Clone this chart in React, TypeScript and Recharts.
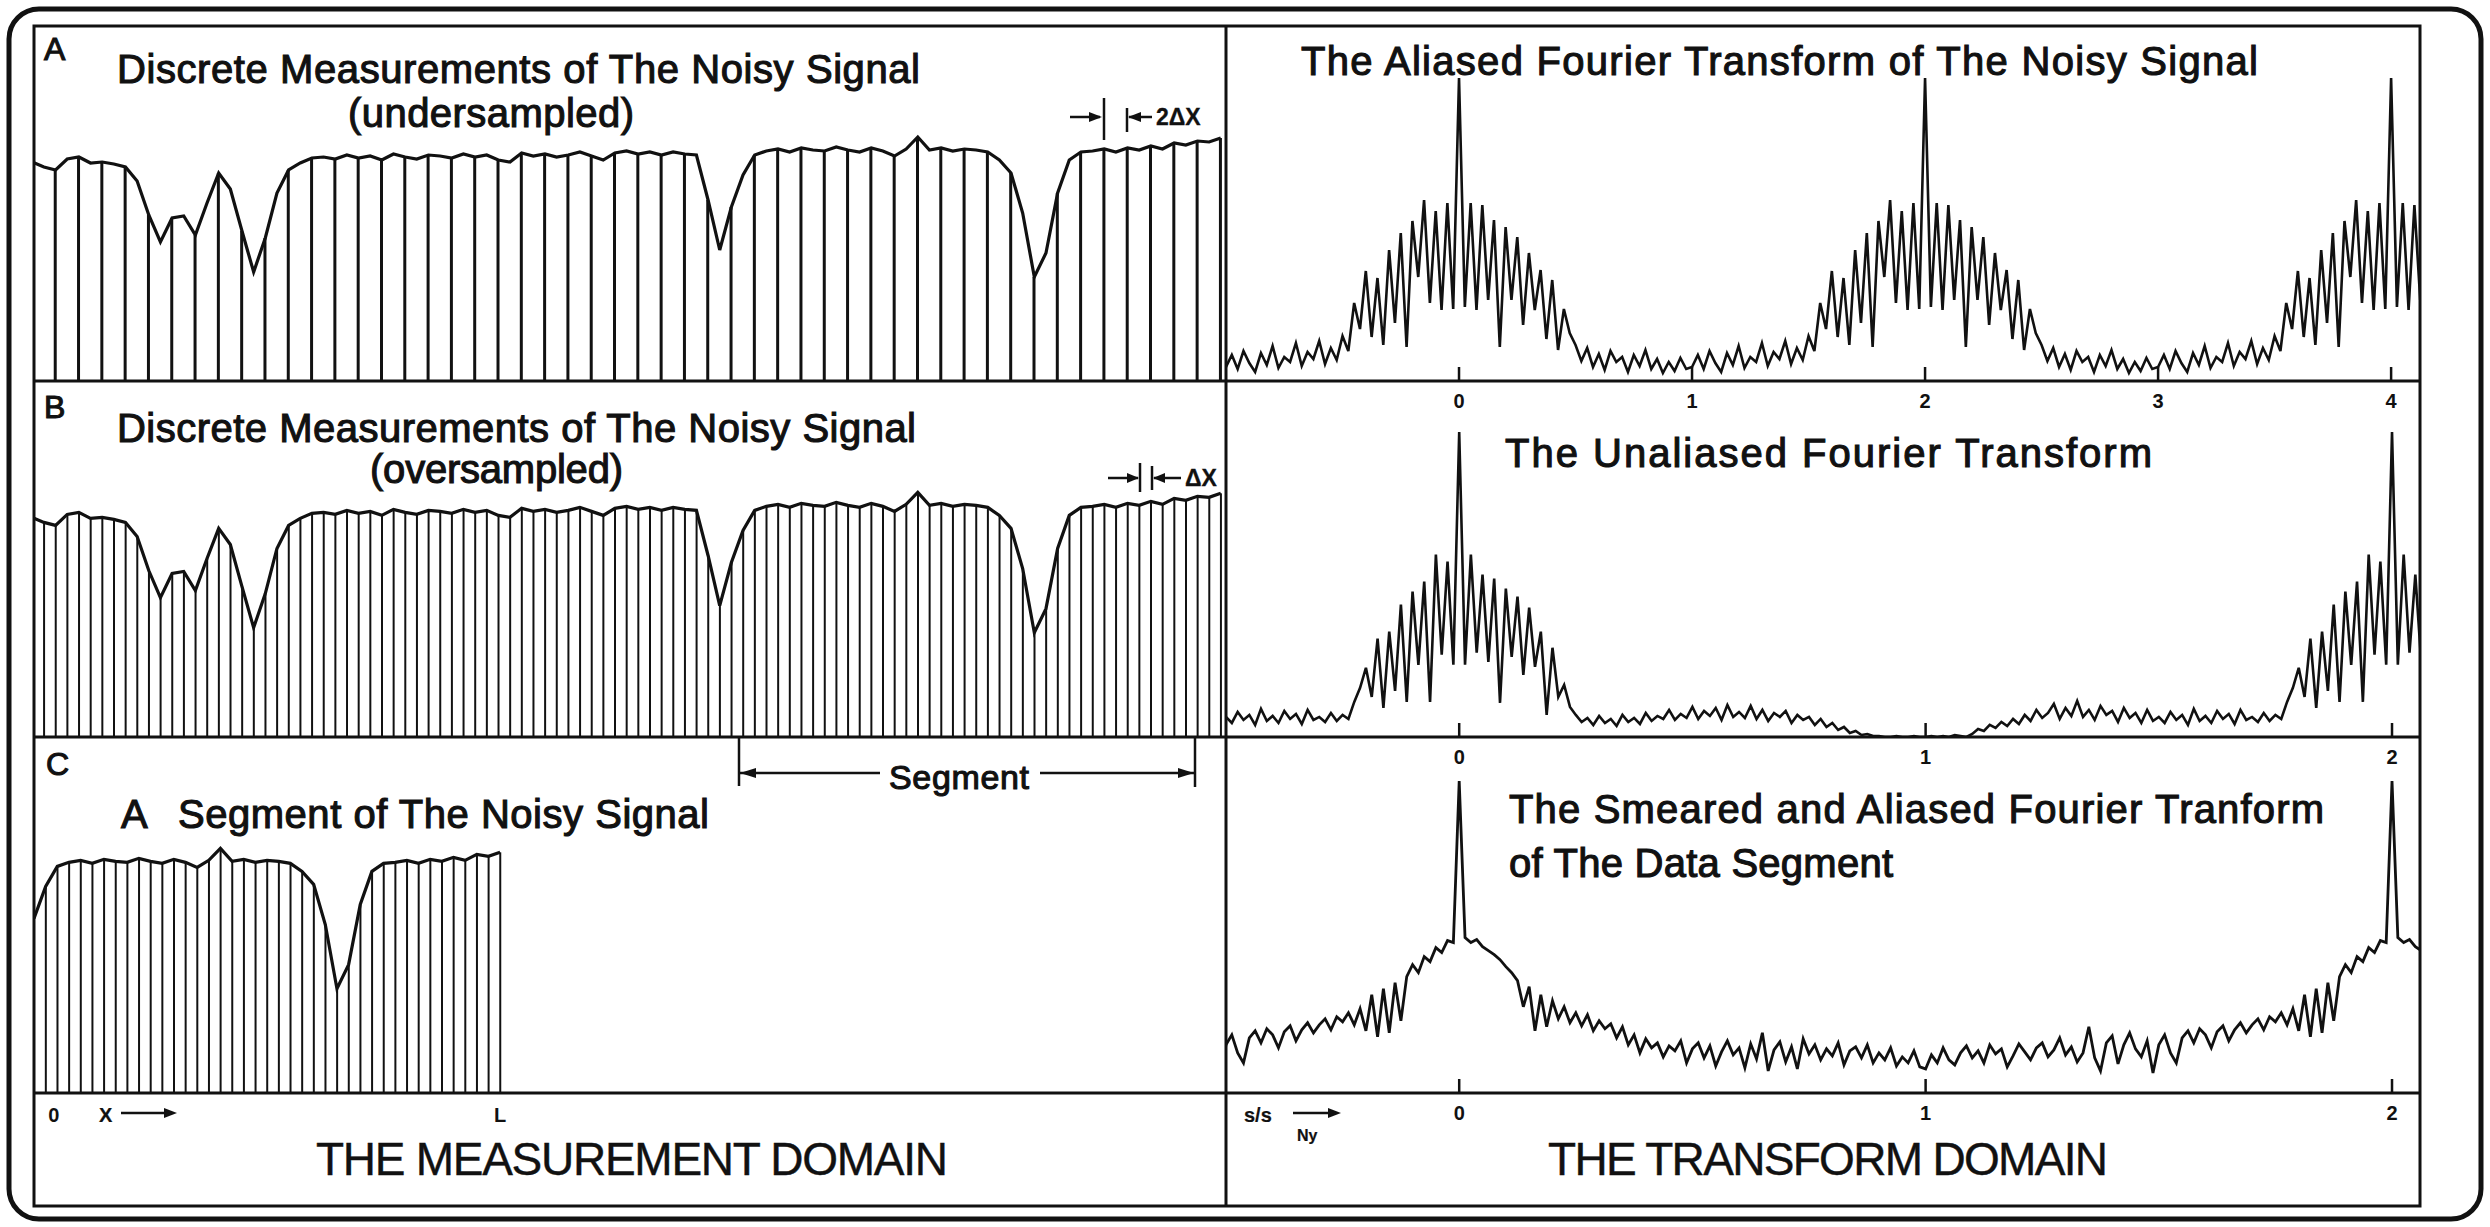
import { ComposedChart, LineChart, Line, Bar, XAxis, YAxis } from 'recharts';

// noisy signal: height above the baseline at every Δx sample (oversampled panel uses all of them)
const SIGNAL = [
  219, 214, 211, 222, 224, 218, 219, 217, 214, 200,
  166, 139, 163, 165, 146, 178, 208, 192, 150, 109,
  143, 188, 211, 218, 223, 224, 222, 226, 223, 225,
  221, 227, 224, 222, 226, 225, 223, 227, 224, 226,
  221, 219, 228, 225, 227, 224, 226, 229, 225, 221,
  228, 230, 227, 229, 226, 229, 227, 226, 181, 131,
  174, 206, 226, 230, 232, 229, 233, 231, 230, 234,
  231, 229, 233, 230, 225, 232, 244, 231, 233, 230,
  232, 231, 229, 221, 208, 168, 104, 128, 188, 221,
  229, 230, 232, 229, 233, 231, 235, 232, 238, 236,
  240, 239, 243,
];
const SEG_FIRST = 61;
const SEG_LAST = 100;

// one period (2 units) of each transform
const ALIASED = [
  14, 26, 12, 30, 18, 9, 28, 16, 35, 13,
  24, 19, 38, 15, 29, 22, 40, 17, 33, 21,
  45, 30, 78, 52, 110, 44, 103, 36, 131, 58,
  148, 34, 160, 104, 181, 78, 170, 71, 178, 72,
  303, 74, 178, 71, 176, 81, 161, 34, 154, 81,
  144, 56, 128, 71, 111, 42, 101, 31, 72, 48,
  36, 20, 33, 14, 27, 11, 30, 19, 24, 9,
  26, 15, 31, 12, 22, 8, 19, 10, 23, 12,
];
const UNALIASED = [
  0, 1, 0, 1, 0, 2, 1, 0, 3, 8,
  6, 12, 9, 15, 11, 18, 13, 22, 16, 27,
  19, 24, 33, 18, 29, 21, 36, 20, 27, 17,
  31, 22, 26, 15, 29, 19, 24, 14, 27, 16,
  20, 14, 25, 17, 22, 12, 28, 16, 21, 14,
  26, 18, 23, 13, 27, 17, 20, 15, 24, 16,
  22, 18, 35, 49, 69, 40, 98, 29, 105, 46,
  132, 35, 145, 72, 155, 35, 182, 82, 175, 72,
  304, 72, 182, 84, 162, 75, 158, 34, 148, 80,
  140, 62, 129, 70, 105, 22, 89, 40, 52, 30,
  22, 15, 19, 12, 21, 14, 18, 11, 22, 15,
  19, 13, 24, 16, 21, 18, 27, 17, 23, 19,
  30, 18, 26, 21, 29, 17, 32, 20, 25, 19,
  31, 18, 27, 16, 24, 20, 26, 14, 22, 17,
  20, 12, 18, 10, 14, 7, 10, 4, 6, 2,
  3, 1, 1, 0, 0, 1, 0, 0, 1, 0,
];
const SMEARED = [
  24, 38, 30, 45, 33, 28, 40, 47, 35, 42,
  30, 48, 39, 44, 26, 37, 49, 41, 33, 45,
  50, 36, 43, 55, 38, 46, 31, 40, 66, 35,
  22, 50, 57, 29, 48, 60, 44, 36, 52, 20,
  48, 58, 40, 30, 55, 62, 50, 64, 58, 45,
  61, 67, 52, 63, 70, 60, 68, 74, 63, 76,
  71, 80, 68, 84, 62, 98, 56, 104, 60, 110,
  72, 116, 128, 120, 136, 131, 145, 140, 152, 150,
  311, 155, 150, 153, 146, 142, 138, 133, 126, 120,
  112, 86, 106, 62, 98, 66, 92, 74, 86, 70,
  80, 67, 78, 62, 72, 64, 69, 55, 66, 48,
  58, 40, 54, 45, 50, 36, 47, 42, 52, 30,
  44, 50, 35, 47, 27, 41, 52, 38, 45, 25,
  49, 34, 60, 22, 43, 51, 31, 46, 24, 54,
  39, 48, 33, 44, 37, 50, 28, 42, 46, 35,
  48, 30, 40, 33, 45, 27, 36, 30, 42, 26,
];

const TICKS_ALIASED = [0, 1, 2, 3, 4];
const TICKS_NY = [0, 1, 2];
const SEG_TICKS = [61.7, 100];
const SEG_TICK_LABELS = ['0', 'L'];

const FONT = '"Liberation Sans", Arial, Helvetica, sans-serif';
const INK = '#111';
const AXIS_H = 44;

type Pt = { x: number; v: number };

// the transforms are periodic (period 2), so a read period is repeated across the axis
function tilePeriod(period: number[], step: number, from: number, to: number): Pt[] {
  const out: Pt[] = [];
  for (let off = -2; off <= 6; off += 2) {
    period.forEach((v, k) => {
      const x = -1 + off + k * step;
      if (x >= from - step && x <= to + step) out.push({ x, v });
    });
  }
  return out;
}

const leftRows = SIGNAL.map((h, i) => ({
  i,
  h,
  under: i > 0 && i % 2 === 0 ? h : 0,
  over: i > 0 ? h : 0,
}));
const segRows = leftRows
  .filter((r) => r.i >= SEG_FIRST - 1 && r.i <= SEG_LAST)
  .map((r) => ({ i: r.i, h: r.h, seg: r.i >= SEG_FIRST ? r.h : 0 }));

const DOM_A: [number, number] = [-1, 4.124];
const DOM_NY: [number, number] = [-0.5, 2.06];
const aliasedData = tilePeriod(ALIASED, 1 / 40, DOM_A[0], DOM_A[1]);
const unaliasedData = tilePeriod(UNALIASED, 1 / 80, DOM_NY[0], DOM_NY[1]);
const smearedData = tilePeriod(SMEARED, 1 / 80, DOM_NY[0], DOM_NY[1]);

const tickStyle = { fontSize: 20, fontWeight: 700, fill: INK, fontFamily: FONT };

function StemPanel({ data, stemKey, domain, barSize, height, withAxis }: any) {
  return (
    <ComposedChart
      width={1192}
      height={height + (withAxis ? AXIS_H : 0)}
      data={data}
      margin={{ top: 0, right: 0, bottom: 0, left: 0 }}
    >
      <XAxis
        dataKey="i"
        type="number"
        domain={domain}
        allowDataOverflow
        hide={!withAxis}
        height={AXIS_H}
        ticks={withAxis ? SEG_TICKS : undefined}
        interval={0}
        axisLine={false}
        tickLine={false}
        tickSize={0}
        tickMargin={15}
        tick={tickStyle}
        tickFormatter={(v) => SEG_TICK_LABELS[SEG_TICKS.indexOf(v)] ?? ''}
      />
      <YAxis hide domain={[0, 355]} />
      <Bar dataKey={stemKey} fill={INK} barSize={barSize} isAnimationActive={false} />
      <Line dataKey="h" type="linear" stroke={INK} strokeWidth={3.2} dot={false} isAnimationActive={false} />
    </ComposedChart>
  );
}

function SpectrumPanel({ data, domain, ticks, height, width = 2.6 }: any) {
  return (
    <LineChart width={1194} height={height + AXIS_H} data={data} margin={{ top: 0, right: 0, bottom: 0, left: 0 }}>
      <XAxis
        dataKey="x"
        type="number"
        domain={domain}
        allowDataOverflow
        height={AXIS_H}
        ticks={ticks}
        interval={0}
        axisLine={false}
        tickSize={-14}
        tickMargin={27}
        tickLine={{ stroke: INK, strokeWidth: 2.5 }}
        tick={tickStyle}
      />
      <YAxis hide domain={[0, 355]} allowDataOverflow />
      <Line dataKey="v" type="linear" stroke={INK} strokeWidth={width} dot={false} isAnimationActive={false} />
    </LineChart>
  );
}

function T({ x, y, w, size = 40, weight = 400, stroke = 1.1, children }: any) {
  return (
    <text
      x={x}
      y={y}
      textLength={w}
      lengthAdjust={w ? 'spacing' : undefined}
      fontSize={size}
      fontFamily={FONT}
      fontWeight={weight}
      fill={INK}
      stroke={INK}
      strokeWidth={stroke}
    >
      {children}
    </text>
  );
}

const place = (left: number, top: number) => ({ position: 'absolute' as const, left, top });

export default function App() {
  const ln = { stroke: INK, strokeWidth: 2.5 };
  return (
    <div style={{ position: 'absolute', left: 0, top: 0, width: 2490, height: 1227, background: '#fff', overflow: 'hidden' }}>
      <div style={place(34, 26)}>
        <StemPanel data={leftRows} stemKey="under" domain={[0.15, 102.45]} barSize={3} height={355} />
      </div>
      <div style={place(34, 381)}>
        <StemPanel data={leftRows} stemKey="over" domain={[0.15, 102.45]} barSize={2} height={356} />
      </div>
      <div style={place(34, 737)}>
        <StemPanel data={segRows} stemKey="seg" domain={[60, 162.3]} barSize={2} height={356} withAxis />
      </div>
      <div style={place(1226, 26)}>
        <SpectrumPanel data={aliasedData} domain={DOM_A} ticks={TICKS_ALIASED} height={355} />
      </div>
      <div style={place(1226, 381)}>
        <SpectrumPanel data={unaliasedData} domain={DOM_NY} ticks={TICKS_NY} height={356} />
      </div>
      <div style={place(1226, 737)}>
        <SpectrumPanel data={smearedData} domain={DOM_NY} ticks={TICKS_NY} height={356} width={2.8} />
      </div>

      <svg width={2490} height={1227} style={{ position: 'absolute', left: 0, top: 0, pointerEvents: 'none' }}>
        {/* frames */}
        <rect x={9} y={9} width={2472} height={1210} rx={30} fill="none" stroke={INK} strokeWidth={5} />
        <rect x={34} y={26} width={2386} height={1180} fill="none" stroke={INK} strokeWidth={3} />
        <line x1={1226} x2={1226} y1={26} y2={1206} stroke={INK} strokeWidth={3} />
        <line x1={34} x2={2420} y1={381} y2={381} stroke={INK} strokeWidth={3} />
        <line x1={34} x2={2420} y1={737} y2={737} stroke={INK} strokeWidth={3} />
        <line x1={34} x2={2420} y1={1093} y2={1093} stroke={INK} strokeWidth={3} />

        {/* panel letters and titles */}
        <T x={44} y={60} w={22} size={32}>A</T>
        <T x={117} y={83} w={803}>Discrete Measurements of The Noisy Signal</T>
        <T x={348} y={127} w={286}>(undersampled)</T>
        <T x={44} y={418} w={22} size={32}>B</T>
        <T x={117} y={442} w={799}>Discrete Measurements of The Noisy Signal</T>
        <T x={370} y={483} w={253}>(oversampled)</T>
        <T x={46} y={775} w={22} size={32}>C</T>
        <T x={121} y={828} w={25}>A</T>
        <T x={178} y={828} w={531}>Segment of The Noisy Signal</T>
        <T x={1301} y={75} w={957}>The Aliased Fourier Transform of The Noisy Signal</T>
        <T x={1505} y={467} w={647}>The Unaliased Fourier Transform</T>
        <T x={1509} y={823} w={815}>The Smeared and Aliased Fourier Tranform</T>
        <T x={1509} y={877} w={384}>of The Data Segment</T>
        <T x={316} y={1175} w={632} size={46} stroke={0.4}>THE MEASUREMENT DOMAIN</T>
        <T x={1548} y={1175} w={560} size={46} stroke={0.4}>THE TRANSFORM DOMAIN</T>

        {/* sample spacing markers */}
        <line x1={1070} x2={1100} y1={117} y2={117} {...ln} />
        <polygon points="1102,117 1089,112 1089,122" fill={INK} />
        <line x1={1104} x2={1104} y1={98} y2={140} {...ln} />
        <line x1={1127} x2={1127} y1={108} y2={132} {...ln} />
        <line x1={1129} x2={1152} y1={117} y2={117} {...ln} />
        <polygon points="1128,117 1141,112 1141,122" fill={INK} />
        <T x={1156} y={125} size={23} weight={700} stroke={0.3}>2ΔX</T>

        <line x1={1108} x2={1138} y1={478} y2={478} {...ln} />
        <polygon points="1139,478 1127,473 1127,483" fill={INK} />
        <line x1={1140} x2={1140} y1={463} y2={492} {...ln} />
        <line x1={1152} x2={1152} y1={466} y2={490} {...ln} />
        <line x1={1154} x2={1181} y1={478} y2={478} {...ln} />
        <polygon points="1153,478 1165,473 1165,483" fill={INK} />
        <T x={1185} y={486} size={23} weight={700} stroke={0.3}>ΔX</T>

        {/* segment bracket */}
        <line x1={739} x2={739} y1={737} y2={786} {...ln} />
        <line x1={1195} x2={1195} y1={737} y2={787} {...ln} />
        <line x1={739} x2={880} y1={773} y2={773} {...ln} />
        <line x1={1040} x2={1195} y1={773} y2={773} {...ln} />
        <polygon points="740,773 756,768 756,778" fill={INK} />
        <polygon points="1194,773 1178,768 1178,778" fill={INK} />
        <T x={889} y={789} w={140} size={34}>Segment</T>

        {/* axis captions */}
        <T x={99} y={1122} size={20} weight={700} stroke={0.2}>X</T>
        <line x1={121} x2={170} y1={1113} y2={1113} {...ln} />
        <polygon points="177,1113 164,1108 164,1118" fill={INK} />
        <T x={1244} y={1122} size={20} weight={700} stroke={0.2}>s/s</T>
        <T x={1297} y={1141} size={16} weight={700} stroke={0.2}>Ny</T>
        <line x1={1293} x2={1334} y1={1113} y2={1113} {...ln} />
        <polygon points="1341,1113 1328,1108 1328,1118" fill={INK} />
      </svg>
    </div>
  );
}
